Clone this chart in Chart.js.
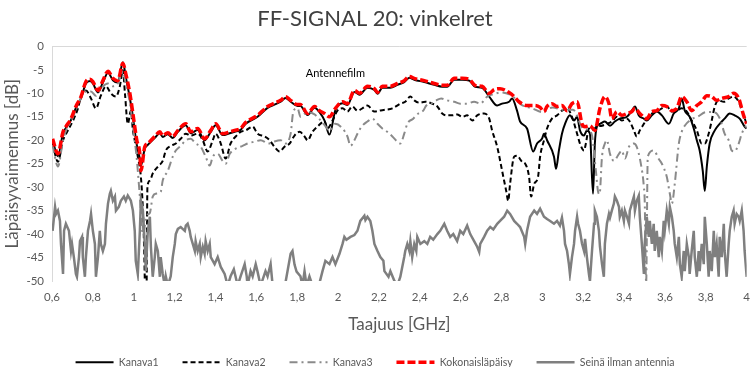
<!DOCTYPE html>
<html>
<head>
<meta charset="utf-8">
<script src="https://cdn.jsdelivr.net/npm/chart.js@4.4.1/dist/chart.umd.min.js"></script>
<style>
  html, body { margin: 0; padding: 0; background: #fff; }
  #wrap { width: 750px; height: 373px; }
</style>
</head>
<body>
<div id="wrap"><canvas id="chart"></canvas></div>
<script>
const chartTitle = "FF-SIGNAL 20: vinkelret";
const xTitle = "Taajuus [GHz]";
const yTitle = "Läpäisyvaimennus [dB]";
const seriesNames = ["Kanava1", "Kanava2", "Kanava3", "Kokonaisläpäisy", "Seinä ilman antennia"];
const noteText = "Antennefilm";
const noteAt = [1.987, -5.8];

// Kanava1 (black solid)
const freqK1 = [0.603,0.629,0.654,0.668,0.693,0.717,0.742,0.766,0.786,0.800,0.825,0.849,0.874,0.898,0.922,0.947,0.961,0.981,0.996,1.005,1.015,1.030,1.035,1.054,1.069,
  1.103,1.128,1.142,1.167,1.191,1.216,1.255,1.279,1.313,1.347,1.377,1.401,1.435,1.470,1.494,1.523,1.548,
  1.606,1.655,1.694,1.719,1.743,1.768,1.802,1.816,1.851,1.885,1.909,1.934,1.958,1.987,2.022,2.046,
  2.080,2.105,2.144,2.178,2.193,2.217,2.256,2.290,2.324,2.349,2.373,2.422,2.471,2.510,2.534,
  2.569,2.608,2.642,2.671,2.705,2.740,
  2.779,2.803,2.837,2.852,2.876,2.891,2.925,2.955,2.974,2.998,3.008,3.023,
  3.057,3.067,3.081,3.096,3.111,3.135,3.155,3.170,3.184,3.204,3.218,3.233,3.248,3.257,3.267,3.282,
  3.306,3.331,3.355,3.379,3.414,3.438,3.453,3.472,3.497,3.511,
  3.536,3.560,3.585,3.619,3.643,3.668,3.682,3.697,3.721,3.741,3.756,3.770,3.785,3.795,3.805,3.819,
  3.844,3.868,3.892,3.917,3.941,3.966,3.990,4.0];
const kanava1 = [-20.0,-23.4,-18.5,-17.4,-15.7,-13.1,-11.0,-7.9,-7.4,-7.9,-9.8,-7.7,-5.6,-7.2,-7.7,-3.4,-6.5,-11,-15,-18,-21,-24,-25.5,-21.8,-21.0,
  -19.5,-18.5,-19.3,-18.7,-19.5,-18.2,-16.8,-18.5,-17.8,-20,-18.2,-16.8,-18.9,-18.5,-18.2,-17.8,-16.5,
  -15,-13.1,-12.3,-11.8,-11,-11.8,-12.7,-12.7,-14.6,-13.1,-14,-15.8,-18.8,-13.6,-12.1,-12.5,
  -9.7,-10.3,-8.8,-9.3,-10.1,-8.8,-8.8,-8.2,-7.6,-6.7,-7.1,-7.6,-8.2,-8.6,-8.6,
  -7.1,-7.1,-7.3,-8.6,-8.8,-10.7,
  -12.6,-12.2,-11.8,-11.1,-13.7,-16,-17.5,-22.4,-20.7,-19.7,-18.6,-20,
  -23.5,-26.1,-22.2,-18.6,-16.5,-14.7,-15.8,-15,-17.9,-19,-17.9,-18.6,-31.4,-20.7,-17.1,-16.5,
  -16,-16.9,-16,-15.4,-15,-13.7,-12.8,-14.7,-15.4,-15.8,
  -14.7,-13.9,-14.7,-16.5,-14.3,-13.2,-11.1,-13.7,-15,-17.5,-20,-22.2,-26.5,-30.8,-25.6,-20.7,
  -17.9,-16.5,-15.4,-14.3,-14.7,-15.4,-17.1,-17.5];

// Kanava2 (black dashed)
const freqK2 = [0.603,0.629,0.654,0.678,0.703,0.727,0.742,0.766,0.791,0.815,0.839,0.864,0.888,0.913,0.932,0.947,0.957,0.971,0.986,0.996,1.005,1.020,1.035,1.045,1.052,1.057,1.062,1.067,
  1.079,1.093,1.118,1.142,1.157,1.181,1.206,1.230,1.255,1.279,1.313,1.338,1.362,1.387,1.401,1.426,1.450,1.474,1.499,1.523,1.548,
  1.582,1.606,1.641,1.665,1.689,1.714,1.738,1.763,1.787,1.812,1.836,1.851,1.875,1.899,1.934,1.948,1.973,1.997,2.022,2.046,
  2.070,2.095,2.119,2.144,2.178,2.202,2.232,2.266,2.305,2.329,2.354,2.373,2.398,2.427,2.461,2.486,2.510,2.534,
  2.559,2.583,2.608,2.632,2.657,2.681,2.715,2.740,2.754,2.779,2.803,2.823,2.833,2.842,2.862,2.876,2.901,2.916,2.935,2.945,2.960,2.979,2.989,3.008,3.023,
  3.047,3.072,3.096,3.121,3.145,3.170,3.184,3.204,3.213,3.228,3.243,3.267,3.292,3.316,3.340,3.365,3.389,3.414,3.428,3.448,3.462,3.477,3.497,3.511,
  3.536,3.560,3.585,3.609,3.634,3.658,3.682,3.707,3.731,3.756,3.780,3.795,3.814,3.829,3.844,3.863,3.888,3.912,3.936,3.961,3.985,4.0];
const kanava2 = [-20.7,-24.6,-20,-17.9,-15.8,-13.2,-10.7,-9.4,-11.1,-13.2,-10.5,-8.5,-10,-10.7,-8.5,-5.1,-10,-16.5,-13.7,-17.9,-20,-23.5,-27.8,-35,-45,-55,-55,-30,
  -28.6,-27.1,-25.6,-24.4,-22.2,-21.2,-20.7,-19.7,-18.6,-19,-18.6,-20,-22.4,-20,-18.6,-20.7,-23.9,-20.7,-19.2,-18.2,-17.9,
  -17.1,-18.6,-19.2,-20,-21.4,-22.4,-21.4,-20.7,-19,-18.2,-19.2,-20,-18.2,-17.1,-16,-17.5,-15.8,-13.7,-13.2,-13.9,
  -12.8,-13.7,-13.2,-12.6,-13.9,-13.7,-13.5,-13.2,-12.2,-11.8,-10.7,-11.5,-12,-11.8,-12.2,-12.8,-14.3,-14.7,
  -14.7,-14.5,-15,-14.7,-15.8,-14.7,-14.3,-15.4,-17.9,-21.4,-26.5,-30.8,-32.9,-29.3,-23.5,-23.3,-24.6,-25,-27.8,-32,-29.3,-27.8,-23.5,-20,-17.5,
  -15.4,-14.7,-13.7,-13.2,-15,-18.6,-20.7,-22.2,-20.7,-17.5,-17.9,-17.1,-16.9,-16.5,-16,-15,-15.8,-15.4,-16,-17.9,-19.2,-17.9,-16.5,-15.4,
  -14.3,-13.9,-13.2,-12.8,-13.9,-13.7,-13.2,-13.9,-15.8,-17.9,-20.7,-20.7,-18.6,-15.8,-12.8,-11.5,-11.8,-11.1,-10.7,-11.8,-14.7,-16.5];

// Kanava3 (grey dash-dot)
const freqK3 = [0.603,0.629,0.654,0.668,0.693,0.717,0.742,0.766,0.791,0.815,0.839,0.874,0.898,0.922,0.947,0.961,0.981,0.996,1.015,1.030,1.045,1.064,1.079,1.093,1.108,
  1.132,1.142,1.167,1.191,1.206,1.230,1.255,1.279,1.303,1.328,1.352,1.372,1.387,1.411,1.435,1.450,1.470,1.499,1.533,1.557,
  1.592,1.621,1.660,1.685,1.719,1.743,1.768,1.782,1.802,1.816,1.851,1.885,1.909,1.938,1.958,1.987,2.022,2.046,
  2.061,2.080,2.095,2.119,2.144,2.168,2.193,2.217,2.241,2.266,2.290,2.305,2.324,2.339,2.368,2.393,2.417,2.432,2.456,2.481,2.505,2.534,
  2.569,2.598,2.632,2.666,2.696,2.730,2.760,2.800,2.850,2.900,2.950,3.000,3.050,3.100,3.150,3.200,3.240,3.262,3.272,3.280,3.292,3.306,3.316,3.331,3.350,
  3.375,3.389,3.404,3.424,3.448,3.462,3.482,3.497,3.501,3.508,3.516,3.545,3.570,3.585,3.609,3.624,3.634,3.648,3.668,3.682,3.697,3.731,
  3.760,3.800,3.840,3.870,3.892,3.912,3.927,3.941,3.961,3.976,3.995,4.0];
const kanava3 = [-21,-25.6,-20,-18,-16,-13.5,-11,-9.6,-9.6,-10.5,-9,-7.9,-8.5,-7.9,-5.3,-8,-12,-17,-24,-32,-40,-36,-35.5,-32,-31.4,
  -31,-28.6,-26.5,-23.5,-22.2,-21.2,-20,-19.7,-20.7,-21.4,-23.5,-25.4,-23.5,-22.9,-24.4,-25,-22.9,-21.8,-21.2,-20.7,
  -20.3,-20,-20.7,-20.3,-20,-20.7,-18.6,-13.7,-13.2,-15,-14,-14.5,-15.5,-17,-18,-16.5,-17.5,-19.2,
  -21.2,-20,-18.6,-16.9,-16,-15.4,-16.5,-17.5,-18.2,-19.2,-20.3,-20.7,-18.6,-16.5,-15.4,-14.3,-13.7,-12.6,-12.2,-11.5,-11.1,-11.5,
  -11.8,-12.2,-12.2,-11.8,-12.2,-10.7,-10.2,-9.8,-10.5,-12.5,-13.2,-14,-13,-13.5,-13.5,-17.5,-18.5,-26.5,-30.8,-31.5,-23.5,-20.7,-20,-22.9,-24.4,
  -22.9,-22.2,-23.9,-21.4,-20.7,-21.4,-25,-30,-33,-50.5,-23.5,-22.2,-24,-25,-27.8,-31.4,-33.5,-29.3,-20.7,-18.2,-16.9,-15.5,
  -15,-14,-14,-15.5,-18.6,-20,-22.2,-22.4,-20.7,-18.6,-17.1,-17];

// Kokonaisläpäisy (red dashed)
const freqTotal = [0.603,0.629,0.654,0.668,0.693,0.717,0.742,0.766,0.786,0.800,0.825,0.849,0.874,0.898,0.922,0.947,0.961,0.981,0.996,1.005,1.015,1.030,1.035,1.054,1.069,
  1.103,1.128,1.142,1.167,1.191,1.216,1.255,1.279,1.313,1.347,1.377,1.401,1.435,1.470,1.494,1.523,1.548,
  1.606,1.655,1.694,1.719,1.743,1.768,1.802,1.816,1.851,1.885,1.909,1.934,1.958,1.987,2.022,2.046,
  2.080,2.105,2.144,2.178,2.193,2.217,2.256,2.290,2.324,2.349,2.373,2.422,2.471,2.510,2.534,
  2.569,2.608,2.642,2.671,2.705,2.740,2.764,2.793,2.837,2.862,2.886,2.925,2.964,2.989,3.008,3.023,
  3.047,3.072,3.096,3.121,3.145,3.170,3.194,3.209,3.233,3.257,3.282,3.306,3.326,3.340,3.365,3.389,3.414,3.438,3.453,3.477,3.511,
  3.536,3.560,3.585,3.609,3.634,3.658,3.682,3.707,3.731,3.756,3.780,3.805,3.829,3.853,3.878,3.912,3.936,3.961,3.985,4.0];
const total = [-19.7,-22.9,-18.2,-17.1,-15.4,-12.8,-10.7,-7.5,-7.0,-7.5,-9.4,-7.3,-5.3,-6.8,-7.3,-3.6,-5.8,-10,-14.3,-17.1,-20,-22.9,-26.5,-21.4,-20.7,
  -19.2,-18.2,-19,-18.4,-19.2,-17.9,-16.5,-18.2,-17.5,-19.7,-17.9,-16.5,-18.6,-18.2,-17.9,-17.5,-16.2,
  -14.7,-12.8,-12,-11.5,-10.7,-11.5,-12.4,-12.4,-14.3,-12.8,-13.7,-14.3,-15,-13.2,-11.8,-12.2,
  -9.4,-10,-8.5,-9,-9.8,-8.5,-8.5,-7.9,-7.3,-6.4,-6.8,-7.3,-7.9,-8.3,-8.3,
  -6.8,-6.8,-7,-8.3,-8.5,-10,-9.2,-9,-9.8,-10.7,-11.8,-12.6,-12.6,-13,-13.9,-12.8,
  -12.2,-12.8,-12.6,-13.7,-12.2,-11.8,-16.5,-17.1,-16.9,-17.9,-13.2,-10.7,-12.2,-15.4,-13.9,-14.7,-14.3,-13.9,-13.2,-14.3,-15.4,
  -13.9,-13.7,-12.6,-12.8,-13.7,-13.2,-10.7,-11.8,-13.7,-12.6,-11.8,-10.5,-10.7,-11.5,-11.1,-10.7,-10,-11.1,-14.7,-16.5];

// Seinä ilman antennia (grey solid)
const freqWall = [0.603,0.615,0.620,0.629,0.639,0.644,0.654,0.659,0.668,0.683,0.693,0.698,0.707,0.717,0.722,0.732,0.737,0.747,0.751,0.761,0.766,0.776,0.786,0.791,0.800,
  0.810,0.815,0.825,0.834,0.839,0.849,0.859,0.864,0.874,0.883,0.888,0.898,0.908,0.913,0.927,0.937,0.952,0.961,0.971,0.981,0.986,0.996,
  1.005,1.010,1.020,1.030,1.035,1.045,1.054,1.059,1.069,1.079,1.084,1.093,1.103,1.108,1.118,1.128,1.132,1.142,1.152,1.157,1.167,1.181,1.191,
  1.201,1.206,1.216,1.230,1.250,1.255,1.264,1.274,1.279,1.289,1.299,1.303,1.313,1.323,1.328,1.338,1.347,1.352,1.362,1.372,1.377,1.396,
  1.411,1.426,1.445,1.460,1.474,1.490,1.509,1.523,1.543,1.553,1.557,1.572,1.582,1.597,1.606,1.621,1.645,1.655,1.670,1.680,1.710,1.740,
  1.768,1.777,1.787,1.797,1.816,1.826,1.836,1.846,1.860,1.875,1.900,1.924,1.938,1.958,1.973,1.987,2.007,2.022,2.031,2.041,2.061,2.080,
  2.095,2.109,2.129,2.134,2.144,2.158,2.168,2.178,2.193,2.207,2.222,2.227,2.247,2.256,2.276,2.290,2.305,2.324,2.329,2.339,2.349,2.354,
  2.363,2.373,2.383,2.388,2.403,2.422,2.437,2.451,2.466,2.486,2.500,2.520,2.534,2.549,2.564,2.583,2.598,2.613,2.632,2.647,2.666,2.681,
  2.691,2.696,2.715,2.730,2.745,2.760,2.779,2.793,2.813,2.828,2.842,2.862,2.876,2.891,2.911,2.916,2.925,2.940,2.960,2.974,2.989,3.008,
  3.023,3.038,3.057,3.072,3.086,3.096,3.106,3.111,3.121,3.130,3.135,3.145,3.155,3.160,3.170,3.175,3.184,3.194,3.204,3.209,3.218,3.228,
  3.233,3.243,3.253,3.257,3.267,3.277,3.282,3.292,3.301,3.306,3.316,3.326,3.331,3.340,3.350,3.355,3.365,3.375,3.379,3.389,3.399,3.404,
  3.414,3.424,3.428,3.438,3.448,3.453,3.462,3.472,3.477,3.487,3.497,3.501,3.511,3.521,3.526,3.536,3.545,3.550,3.560,3.570,3.575,3.585,
  3.594,3.599,3.609,3.619,3.624,3.634,3.643,3.648,3.658,3.668,3.673,3.682,3.692,3.697,3.707,3.717,3.721,3.731,3.741,3.746,3.756,3.765,
  3.770,3.780,3.790,3.795,3.805,3.814,3.819,3.829,3.839,3.844,3.853,3.863,3.868,3.878,3.888,3.892,3.902,3.912,3.917,3.927,3.936,3.941,
  3.951,3.961,3.966,3.976,3.985,3.990,4.000];
const wall = [-39.3,-34.2,-35.7,-35,-37.2,-42.1,-48.5,-39.3,-37.8,-39.3,-43.6,-42.1,-44.9,-48.5,-49.1,-44.9,-41.5,-40.6,-44.9,-49.1,-44.9,-39.3,-37.2,-35.7,-39.3,
  -42.1,-49.1,-44.9,-39.3,-42.1,-43.6,-42.1,-37.8,-33.5,-31.4,-30.8,-32.9,-32,-35,-34.2,-32.9,-32,-32.9,-31.8,-32.5,-32.9,-35,
  -39.3,-45.7,-48.5,-39.3,-32.9,-35,-42.1,-47.9,-39.3,-36.3,-42.7,-49.1,-44.9,-42.1,-43.6,-49.1,-44.9,-48.5,-51,-49,-51,-49,-44.9,
  -42.1,-40,-38.9,-38.5,-39.3,-38.2,-37.8,-39.3,-40.6,-42.1,-43.6,-41.5,-43.6,-42.1,-44.9,-42.7,-44.2,-41.5,-43.6,-42.1,-44.9,-46.4,
  -44.9,-47,-48.5,-51,-49,-47.5,-51,-49,-46.4,-49,-51,-47.9,-49,-46.4,-48,-51,-47.9,-49,-46.4,-51,-52,-51,
  -44.2,-43.6,-46.5,-48,-49,-51,-47.9,-51,-49,-51,-52,-47.9,-45.7,-46.4,-44.9,-46.4,-44.2,-42.1,-40.6,-41.2,-40.6,-40.2,
  -39.3,-37.2,-36.1,-37,-36.3,-37.2,-39.3,-42.1,-43.6,-44.9,-45.7,-47.9,-49.1,-47.9,-50,-51,-49.1,-44.9,-43.6,-42.1,-43.6,-41.5,
  -44.9,-42.1,-43.6,-40.6,-42.1,-41.5,-42.1,-40.6,-41.2,-40,-39.3,-37.8,-39.3,-40.6,-40,-41.5,-39.3,-40,-38.2,-40,-41.5,-42.7,
  -43.8,-42.1,-40.6,-39.3,-38.5,-39,-37.8,-37.2,-36.3,-35,-35.7,-37.2,-37.8,-38.5,-40.6,-42.1,-39.3,-36.3,-35,-35.7,-34.6,-36.3,
  -36.8,-37.2,-37.8,-37.2,-38.2,-36.5,-39.3,-42.1,-43.6,-46.4,-48.5,-44.9,-42.1,-39.3,-36.3,-37.8,-39.3,-42,-43.6,-41,-44.9,-48.5,
  -50,-43.6,-37.8,-35,-36.3,-39.3,-42.7,-46.4,-49.1,-42.1,-37.8,-35.7,-36.5,-35,-33.5,-32,-32.9,-34.2,-36.3,-35,-37.2,-35,
  -36.3,-37.8,-35,-33.5,-32,-35,-32.9,-31.8,-36.3,-42.1,-48.5,-42.1,-36.3,-40.6,-37.2,-42.1,-37.8,-43.6,-39.3,-44.9,-40.6,-43.6,
  -37.2,-39.3,-35,-37.8,-34.2,-36.3,-39.3,-42.1,-44.9,-40.6,-46.4,-49.1,-43.6,-47.9,-42.1,-44.9,-48.5,-43.6,-39.3,-44.9,-49.1,-43.6,
  -47.9,-42.1,-46.4,-36.3,-42.1,-49.1,-43.6,-47.9,-39.3,-44.9,-42.1,-49.1,-40.6,-44.9,-37.8,-43.6,-49.1,-42.1,-39.3,-36.3,-35,-37.8,
  -35.7,-36.3,-37.2,-35,-39.3,-43.6,-49.1];

const yTicksStep = 5;
const xTicksStep = 0.2;

const pts = (xs, ys) => xs.map((x, i) => ({ x: x, y: ys[i] }));

Chart.defaults.font.family = "Lato, 'Open Sans', sans-serif";
Chart.defaults.color = "#595959";

const notePlugin = {
  id: "note",
  afterDatasetsDraw(chart) {
    const ctx = chart.ctx;
    const x = chart.scales.x.getPixelForValue(noteAt[0]);
    const y = chart.scales.y.getPixelForValue(noteAt[1]);
    ctx.save();
    ctx.font = "11px Lato, sans-serif";
    ctx.fillStyle = "#000";
    ctx.textAlign = "center";
    ctx.textBaseline = "middle";
    ctx.fillText(noteText, x, y);
    ctx.restore();
  }
};

// move the legend row a bit up after layout
const legendNudge = {
  id: "legendNudge",
  afterLayout(chart) {
    chart.legend.top -= 6;
    chart.legend.bottom -= 6;
  }
};

const lineBase = { pointRadius: 0, pointHoverRadius: 0, fill: false, showLine: true };

chart = new Chart(document.getElementById("chart"), {
  type: "scatter",
  data: {
    datasets: [
      { ...lineBase, label: seriesNames[0], data: pts(freqK1, kanava1), borderColor: "#000000", borderWidth: 2,
        cubicInterpolationMode: "monotone", order: 4 },
      { ...lineBase, label: seriesNames[1], data: pts(freqK2, kanava2), borderColor: "#000000", borderWidth: 2,
        borderDash: [5, 3], cubicInterpolationMode: "monotone", order: 3 },
      { ...lineBase, label: seriesNames[2], data: pts(freqK3, kanava3), borderColor: "#8a8a8a", borderWidth: 2,
        borderDash: [8, 4, 2, 4], cubicInterpolationMode: "monotone", order: 2 },
      { ...lineBase, label: seriesNames[3], data: pts(freqTotal, total), borderColor: "#ff0000", borderWidth: 3.5,
        borderDash: [8, 3], cubicInterpolationMode: "monotone", order: 1 },
      { ...lineBase, label: seriesNames[4], data: pts(freqWall, wall), borderColor: "#7f7f7f", borderWidth: 2.5,
        order: 0 }
    ]
  },
  options: {
    responsive: true,
    maintainAspectRatio: false,
    animation: false,
    devicePixelRatio: 1,
    layout: { padding: { left: 0, right: 0, top: 0, bottom: 0 } },
    plugins: {
      title: {
        display: true,
        text: chartTitle,
        color: "#404040",
        font: { size: 22, weight: "normal" },
        padding: { top: 6, bottom: 14 }
      },
      legend: {
        position: "bottom",
        maxHeight: 34,
        labels: {
          usePointStyle: true,
          pointStyleWidth: 38,
          padding: 24,
          font: { size: 10.5 },
          generateLabels: chart => chart.data.datasets.map((ds, i) => ({
            text: ds.label,
            fillStyle: ds.borderColor,
            strokeStyle: ds.borderColor,
            lineWidth: ds.borderWidth,
            lineDash: ds.borderDash || [],
            pointStyle: "line",
            fontColor: "#595959",
            hidden: false,
            datasetIndex: i
          }))
        }
      },
      tooltip: { enabled: false }
    },
    scales: {
      x: {
        type: "linear",
        min: 0.6,
        max: 4,
        afterFit: s => { s.height = 58; },
        ticks: {
          stepSize: xTicksStep,
          padding: 0,
          font: { size: 11.5 },
          color: "#595959",
          callback: v => String(Math.round(v * 10) / 10).replace(".", ",")
        },
        grid: { display: true, drawOnChartArea: false, drawTicks: true, tickLength: 9, tickColor: "rgba(0,0,0,0)" },
        border: { display: false },
        title: { display: true, text: xTitle, font: { size: 17 }, color: "#595959", padding: { top: 4, bottom: 4 } }
      },
      y: {
        min: -50,
        max: 0,
        afterFit: s => { s.width = 52; },
        ticks: {
          stepSize: yTicksStep,
          padding: 8,
          font: { size: 11.5 },
          color: "#595959",
          callback: v => String(v)
        },
        grid: {
          drawTicks: false,
          color: c => (c.tick && c.tick.value === 0 ? "#d9d9d9" : "rgba(0,0,0,0)")
        },
        border: { display: true, color: "#d9d9d9" },
        title: { display: true, text: yTitle, font: { size: 17 }, color: "#595959", padding: { top: 2, bottom: 0 } }
      }
    }
  },
  plugins: [notePlugin, legendNudge]
});
</script>
</body>
</html>
